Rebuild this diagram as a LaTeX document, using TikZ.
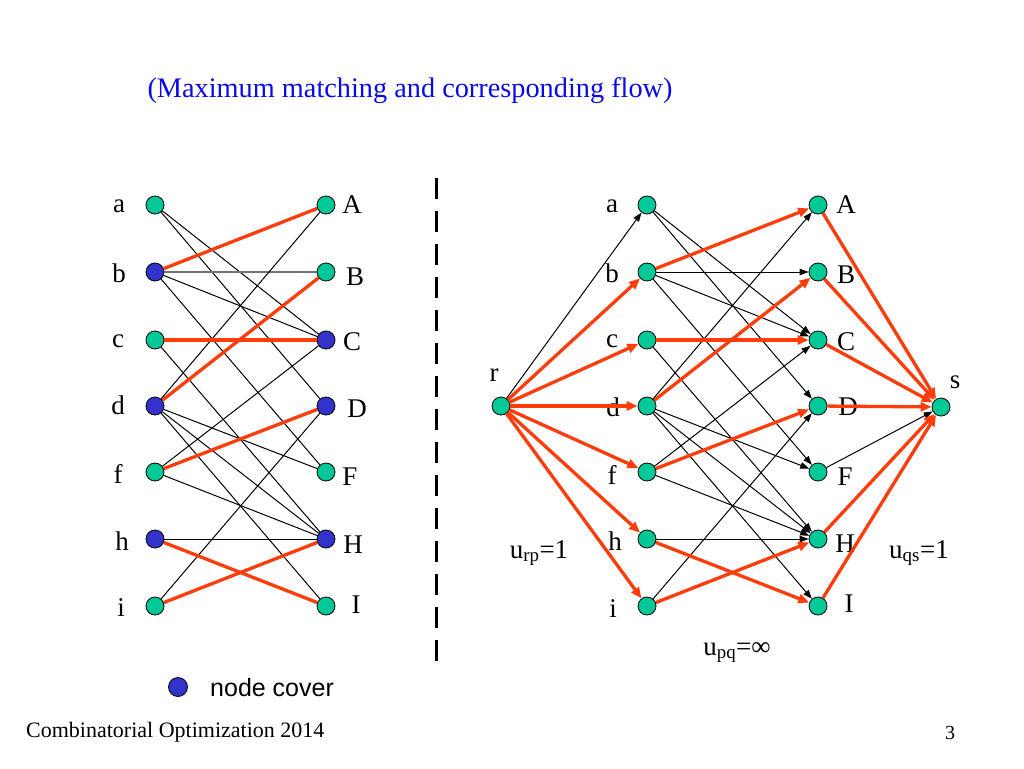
\documentclass[tikz,border=0pt]{standalone}
\usepackage{fontspec}
\setmainfont{Liberation Serif}
\newfontfamily\arialfont{Liberation Sans}
\usetikzlibrary{arrows.meta}
\definecolor{nodegreen}{RGB}{0,200,150}
\definecolor{coverblue}{RGB}{51,51,204}
\definecolor{matchred}{RGB}{255,60,10}
\definecolor{titleblue}{RGB}{10,10,230}
\begin{document}
\begin{tikzpicture}[x=1pt,y=-1pt,
  vtx/.style={circle,draw=black,line width=0.8pt,fill=nodegreen,minimum size=18pt,inner sep=0pt},
  cov/.style={vtx,fill=coverblue},
  lbl/.style={font=\fontsize{27}{27}\selectfont,anchor=base,inner sep=0pt},
  edgeb/.style={draw=black,line width=1pt},
  edger/.style={draw=matchred,line width=3.3pt},
  arrb/.style={edgeb,-{Triangle[length=9pt,width=6.5pt]}},
  arrr/.style={edger,-{Triangle[length=11pt,width=9pt]}}
]
\useasboundingbox (0,0) rectangle (1024,768);

% title and footer
\node[font=\fontsize{28.3}{28.3}\selectfont,text=titleblue,anchor=base,inner sep=0pt] (title) at (410,97) {(Maximum matching and corresponding flow)};
\node[font=\fontsize{22}{22}\selectfont,anchor=base west,inner sep=0pt] (foot) at (26,737) {Combinatorial Optimization 2014};
\node[font=\fontsize{20}{20}\selectfont,anchor=base,inner sep=0pt] (pnum) at (950,739) {3};

% ---------- left graph labels ----------
\node[lbl] (la) at (119,212) {a};
\node[lbl] (lb) at (119,282) {b};
\node[lbl] (lc) at (118,347) {c};
\node[lbl] (ld) at (118,414) {d};
\node[lbl] (lf) at (118,483) {f};
\node[lbl] (lh) at (122,550) {h};
\node[lbl] (li) at (121,616) {i};
\node[lbl] (lA) at (352,213) {A};
\node[lbl] (lB) at (355,285) {B};
\node[lbl] (lC) at (352,350) {C};
\node[lbl] (lD) at (357,417) {D};
\node[lbl] (lF) at (350,485) {F};
\node[lbl] (lH) at (353,553) {H};
\node[lbl] (lI) at (356,613) {I};

% left graph nodes
\node[vtx] (a) at (155,205) {};
\node[cov] (b) at (155,272) {};
\node[vtx] (c) at (155,340) {};
\node[cov] (d) at (155,406) {};
\node[vtx] (f) at (155,472) {};
\node[cov] (h) at (155,539) {};
\node[vtx] (i) at (155,606) {};
\node[vtx] (A) at (326,205) {};
\node[vtx] (B) at (326,272) {};
\node[cov] (C) at (326,340) {};
\node[cov] (D) at (326,406) {};
\node[vtx] (F) at (326,472) {};
\node[cov] (H) at (326,539) {};
\node[vtx] (I) at (326,606) {};

% left graph edges
\draw[edgeb] (a) -- (C);
\draw[edgeb] (a) -- (D);
\draw[edgeb,draw=black!55,line width=1.4pt] (b) -- (B);
\draw[edgeb] (b) -- (C);
\draw[edgeb] (b) -- (F);
\draw[edgeb] (c) -- (H);
\draw[edgeb] (d) -- (A);
\draw[edgeb] (d) -- (F);
\draw[edgeb] (d) -- (H);
\draw[edgeb] (d) -- (I);
\draw[edgeb] (f) -- (C);
\draw[edgeb] (f) -- (H);
\draw[edgeb] (h) -- (H);
\draw[edgeb] (i) -- (D);
\draw[edger] (b) -- (A);
\draw[edger] (c) -- (C);
\draw[edger] (d) -- (B);
\draw[edger] (f) -- (D);
\draw[edger] (h) -- (I);
\draw[edger] (i) -- (H);

% legend
\node[cov,minimum size=19pt] (legdot) at (178,687) {};
\node[font=\arialfont\fontsize{25}{25}\selectfont,anchor=base west,inner sep=0pt] (legtxt) at (210,696) {node cover};

% dashed separator
\coordinate (septop) at (436,178);
\coordinate (sepbot) at (436,665);
\draw[line width=3pt,dash pattern=on 21pt off 12pt] (septop) -- (sepbot);

% ---------- right graph labels ----------
\node[lbl] (ra) at (612,212) {a};
\node[lbl] (rb) at (612,282) {b};
\node[lbl] (rc) at (612,347) {c};
\node[lbl] (rd) at (613,416) {d};
\node[lbl] (rf) at (612,484) {f};
\node[lbl] (rh) at (615,550) {h};
\node[lbl] (ri) at (613,617) {i};
\node[lbl] (rA) at (846,213) {A};
\node[lbl] (rB) at (846,283) {B};
\node[lbl] (rC) at (846,350) {C};
\node[lbl] (rD) at (848,415) {D};
\node[lbl] (rF) at (845,485) {F};
\node[lbl] (rH) at (845,552) {H};
\node[lbl] (rI) at (849,612) {I};
\node[lbl] (rr) at (494,381) {r};
\node[lbl] (rs) at (955,388) {s};
\node[lbl] (urp) at (539,558) {u\textsubscript{rp}=1};
\node[lbl] (uqs) at (919,558) {u\textsubscript{qs}=1};
\node[lbl] (upq) at (737,655) {u\textsubscript{pq}=∞};

% right graph nodes
\node[vtx] (r) at (501,406) {};
\node[vtx] (s) at (941,407) {};
\node[vtx] (a2) at (647,205) {};
\node[vtx] (b2) at (647,272) {};
\node[vtx] (c2) at (647,340) {};
\node[vtx] (d2) at (647,406) {};
\node[vtx] (f2) at (647,472) {};
\node[vtx] (h2) at (647,539) {};
\node[vtx] (i2) at (647,606) {};
\node[vtx] (A2) at (818,205) {};
\node[vtx] (B2) at (818,272) {};
\node[vtx] (C2) at (818,340) {};
\node[vtx] (D2) at (818,406) {};
\node[vtx] (F2) at (818,472) {};
\node[vtx] (H2) at (818,539) {};
\node[vtx] (I2) at (818,606) {};

% source arcs
\draw[arrb] (r) -- (a2);
\draw[arrr] (r) -- (b2);
\draw[arrr] (r) -- (c2);
\draw[arrr] (r) -- (d2);
\draw[arrr] (r) -- (f2);
\draw[arrr] (r) -- (h2);
\draw[arrr] (r) -- (i2);

% middle arcs
\draw[arrb] (a2) -- (C2);
\draw[arrb] (a2) -- (D2);
\draw[arrb] (b2) -- (B2);
\draw[arrb] (b2) -- (C2);
\draw[arrb] (b2) -- (F2);
\draw[arrb] (c2) -- (H2);
\draw[arrb] (d2) -- (A2);
\draw[arrb] (d2) -- (F2);
\draw[arrb] (d2) -- (H2);
\draw[arrb] (d2) -- (I2);
\draw[arrb] (f2) -- (C2);
\draw[arrb] (f2) -- (H2);
\draw[arrb] (h2) -- (H2);
\draw[arrb] (i2) -- (D2);
\draw[arrr] (b2) -- (A2);
\draw[arrr] (c2) -- (C2);
\draw[arrr] (d2) -- (B2);
\draw[arrr] (f2) -- (D2);
\draw[arrr] (h2) -- (I2);
\draw[arrr] (i2) -- (H2);

% sink arcs
\draw[arrr] (A2) -- (s);
\draw[arrr] (B2) -- (s);
\draw[arrr] (C2) -- (s);
\draw[arrr] (D2) -- (s);
\draw[arrb] (F2) -- (s);
\draw[arrr] (H2) -- (s);
\draw[arrr] (I2) -- (s);
\end{tikzpicture}
\end{document}
